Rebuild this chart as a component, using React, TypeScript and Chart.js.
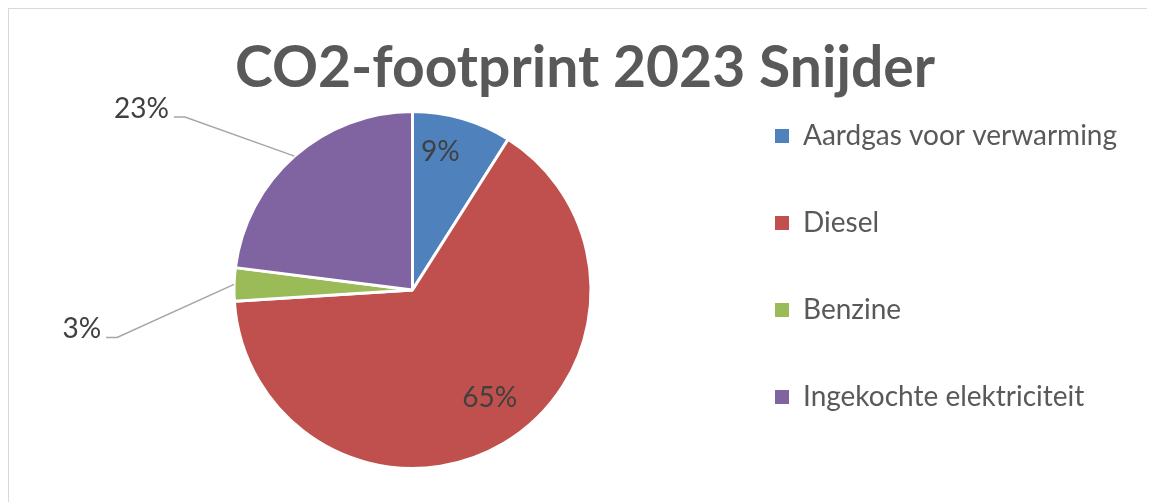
import React, { useEffect, useRef } from 'react';
import { Chart, registerables } from 'chart.js';

Chart.register(...registerables);

// ---- data ----
const chartTitle = 'CO2-footprint 2023 Snijder';
const categories = ['Aardgas voor verwarming', 'Diesel', 'Benzine', 'Ingekochte elektriciteit'];
const shares = [9, 65, 3, 23];

// ---- style ----
const sliceColors = ['#4F81BD', '#C0504D', '#9BBB59', '#8064A2'];
const FONT = 'Lato';
const LEGEND_FS = 28;
const LEGEND_PAD = 59;
const LEGEND_BOX = 14;
const MARKER_X = 766; // canvas x of legend markers
// label placement (style only): inside labels at a fraction of the radius, outside labels with a leader line
const labelPlacement = [
  { inside: true, r: 0.8, dx: -12, dy: -1 },
  { inside: true, r: 0.75, dx: 9, dy: -7 },
  { inside: false, r: 1, dx: -117, dy: 53 },
  { inside: false, r: 1, dx: -109.5, dy: -39 },
];

const W = 1146;
const H = 493;

export default function App() {
  const ref = useRef<HTMLCanvasElement>(null);

  useEffect(() => {
    document.documentElement.style.overflow = 'hidden';
    const canvas = ref.current;
    if (!canvas) return;

    // legend width so that the markers land at MARKER_X
    const mctx = document.createElement('canvas').getContext('2d')!;
    mctx.font = `normal ${LEGEND_FS}px ${FONT}`;
    const textW = Math.max(...categories.map((c) => mctx.measureText(c).width));
    const legendW = LEGEND_PAD + LEGEND_BOX + LEGEND_FS / 2 + textW + 10;
    const padRight = Math.max(0, W - (MARKER_X - LEGEND_PAD) - legendW);
    const chartRight = MARKER_X - LEGEND_PAD;
    const pieCenterX = 403.5;
    const padLeft = Math.max(0, 2 * pieCenterX - chartRight);

    const centerTitle = {
      id: 'centerTitle',
      afterLayout(chart: any) {
        const t = chart.titleBlock;
        if (t) {
          t.left = 6;
          t.right = chart.width;
        }
      },
    };

    const sliceLabels = {
      id: 'sliceLabels',
      afterDatasetsDraw(chart: any) {
        const ctx = chart.ctx;
        const meta = chart.getDatasetMeta(0);
        const data = chart.data.datasets[0].data as number[];
        const total = data.reduce((a: number, b: number) => a + b, 0);
        ctx.save();
        ctx.font = `28px ${FONT}`;
        ctx.fillStyle = '#404040';
        meta.data.forEach((arc: any, i: number) => {
          const { x, y, startAngle, endAngle, outerRadius } = arc.getProps(
            ['x', 'y', 'startAngle', 'endAngle', 'outerRadius'],
            true
          );
          const mid = (startAngle + endAngle) / 2;
          const st = labelPlacement[i];
          const text = Math.round((data[i] / total) * 100) + '%';
          if (st.inside) {
            const px = x + Math.cos(mid) * outerRadius * st.r + st.dx;
            const py = y + Math.sin(mid) * outerRadius * st.r + st.dy;
            ctx.textAlign = 'center';
            ctx.textBaseline = 'middle';
            ctx.fillText(text, px, py);
          } else {
            const ex = x + Math.cos(mid) * outerRadius;
            const ey = y + Math.sin(mid) * outerRadius;
            const bx = ex + st.dx;
            const by = ey + st.dy;
            ctx.strokeStyle = '#a6a6a6';
            ctx.lineWidth = 1.5;
            ctx.beginPath();
            ctx.moveTo(ex, ey);
            ctx.lineTo(bx, by);
            ctx.lineTo(bx - 11, by);
            ctx.stroke();
            ctx.textAlign = 'right';
            ctx.textBaseline = 'alphabetic';
            ctx.fillText(text, bx - 16, by + 1);
          }
        });
        ctx.restore();
      },
    };

    const baseGen = (Chart as any).overrides.doughnut.plugins.legend.labels.generateLabels;

    const chart = new Chart(canvas, {
      type: 'pie',
      data: {
        labels: categories,
        datasets: [
          {
            data: shares,
            backgroundColor: sliceColors,
            borderColor: '#ffffff',
            borderWidth: 3,
          },
        ],
      },
      options: {
        responsive: false,
        animation: false,
        layout: { padding: { left: padLeft, right: padRight, top: 0, bottom: 32 } },
        plugins: {
          tooltip: { enabled: false },
          title: {
            display: true,
            text: chartTitle,
            color: '#595959',
            font: { family: FONT, size: 57, weight: 'bold' },
            padding: { top: 25, bottom: 7.6 },
          },
          legend: {
            position: 'right',
            align: 'end',
            labels: {
              boxWidth: LEGEND_BOX,
              boxHeight: LEGEND_BOX,
              padding: LEGEND_PAD,
              color: '#595959',
              font: { family: FONT, size: LEGEND_FS },
              generateLabels: (c: any) =>
                baseGen(c).map((it: any) => ({ ...it, lineWidth: 0, strokeStyle: 'rgba(0,0,0,0)' })),
            },
          },
        },
      } as any,
      plugins: [centerTitle, sliceLabels],
    });

    return () => {
      chart.destroy();
    };
  }, []);

  return (
    <div
      style={{
        width: W,
        height: H,
        borderTop: '1px solid #d9d9d9',
        borderLeft: '1px solid #d9d9d9',
        background: '#ffffff',
      }}
    >
      <canvas ref={ref} width={W} height={H} style={{ display: 'block', width: W, height: H }} />
    </div>
  );
}
